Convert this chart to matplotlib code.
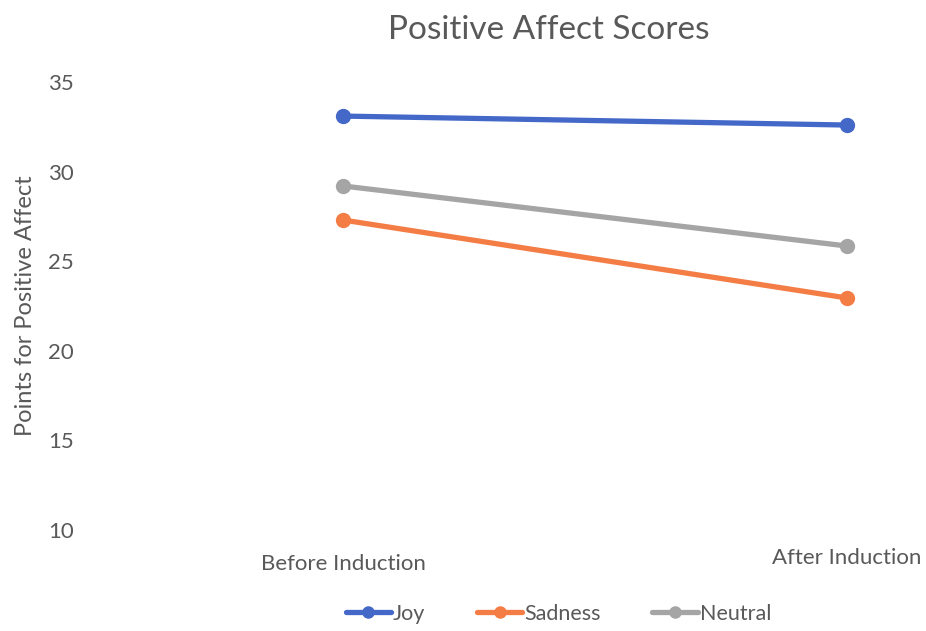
import matplotlib.pyplot as plt
import matplotlib.transforms as mtransforms

plt.rcParams['font.family'] = ['Lato', 'DejaVu Sans']

stages = ['Before Induction', 'After Induction']
joy = [33.1, 32.6]
sadness = [27.3, 22.95]
neutral = [29.2, 25.85]

series = [
    ('Joy', joy, '#4468C8'),
    ('Sadness', sadness, '#F47D45'),
    ('Neutral', neutral, '#A5A5A5'),
]

text_color = '#595959'

fig = plt.figure(figsize=(9.26, 6.31), dpi=100)
ax = fig.add_axes([0.092, 0.160, 0.908, 0.710])

x = list(range(len(stages)))
for name, vals, color in series:
    ax.plot(x, vals, color=color, linewidth=3.8, marker='o', markersize=10,
            solid_capstyle='round', label=name)

ax.set_xlim(-0.512, 1.157)
ax.set_ylim(10, 35)
ax.set_yticks([10, 15, 20, 25, 30, 35])
ax.set_xticks(x)
ax.set_xticklabels(stages)

for s in ax.spines.values():
    s.set_visible(False)
ax.tick_params(axis='both', length=0, colors=text_color, labelsize=16)
ax.tick_params(axis='y', pad=8)
ax.tick_params(axis='x', pad=17)

# the second category label sits a little higher
lbl = ax.get_xticklabels()[1]
lbl.set_transform(lbl.get_transform() + mtransforms.ScaledTranslation(0, 4 / 72, fig.dpi_scale_trans))

ax.set_ylabel('Points for Positive Affect', color=text_color, fontsize=17, labelpad=9)
fig.text(0.593, 0.953, 'Positive Affect Scores', ha='center', va='center',
         fontsize=24, color=text_color)

leg = ax.legend(loc='center', bbox_to_anchor=(0.603, 0.027), bbox_transform=fig.transFigure,
                ncol=3, frameon=False, fontsize=15.5, handlelength=2.1, handletextpad=0.1,
                columnspacing=2.4, markerscale=0.8)
for t in leg.get_texts():
    t.set_color(text_color)

fig.savefig('out.png', dpi=100)
